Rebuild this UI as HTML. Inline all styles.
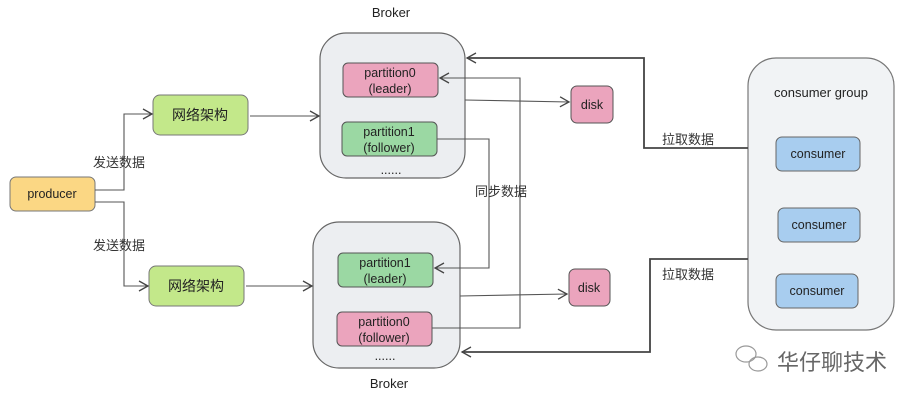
<!DOCTYPE html>
<html><head><meta charset="utf-8"><style>
html,body{margin:0;padding:0;background:#fff;}
svg text{font-family:"Liberation Sans","Noto Sans CJK SC",sans-serif;}
</style></head><body>
<svg width="915" height="402" viewBox="0 0 915 402" xmlns="http://www.w3.org/2000/svg">
<defs>
<marker id="a" markerWidth="12" markerHeight="12" refX="10" refY="6" orient="auto" markerUnits="userSpaceOnUse">
<path d="M1,1 L10,6 L1,11" fill="none" stroke="#444" stroke-width="1.3"/>
</marker>
</defs>
<rect width="915" height="402" fill="#fff"/>
<rect x="320" y="33" width="145" height="145" rx="26" fill="#eceef1" stroke="#666" stroke-width="1.2"/>
<rect x="313" y="222" width="147" height="146" rx="26" fill="#eceef1" stroke="#666" stroke-width="1.2"/>
<rect x="748" y="58" width="146" height="272" rx="28" fill="#f1f3f5" stroke="#777" stroke-width="1.2"/>
<text x="391" y="17" font-size="13" text-anchor="middle" fill="#222">Broker</text>
<text x="389" y="388" font-size="13" text-anchor="middle" fill="#222">Broker</text>
<text x="821" y="97" font-size="13" text-anchor="middle" fill="#222">consumer group</text>
<g font-size="12.5" text-anchor="middle" fill="#222">
<rect x="343" y="63" width="95" height="34" rx="5" fill="#eba4bd" stroke="#555"/>
<text x="390" y="77">partition0</text><text x="390" y="93">(leader)</text>
<rect x="342" y="122" width="95" height="34" rx="5" fill="#9bd8a3" stroke="#555"/>
<text x="389" y="136">partition1</text><text x="389" y="152">(follower)</text>
<text x="391" y="174">......</text>
<rect x="338" y="253" width="95" height="34" rx="5" fill="#9bd8a3" stroke="#555"/>
<text x="385" y="267">partition1</text><text x="385" y="283">(leader)</text>
<rect x="337" y="312" width="95" height="34" rx="5" fill="#eba4bd" stroke="#555"/>
<text x="384" y="326">partition0</text><text x="384" y="342">(follower)</text>
<text x="385" y="360">......</text>
<rect x="571" y="86" width="42" height="37" rx="6" fill="#eba4bd" stroke="#555"/>
<text x="592" y="109">disk</text>
<rect x="569" y="269" width="41" height="37" rx="6" fill="#eba4bd" stroke="#555"/>
<text x="589" y="292">disk</text>
<rect x="10" y="177" width="85" height="34" rx="6" fill="#fbd784" stroke="#777"/>
<text x="52" y="198">producer</text>
<rect x="153" y="95" width="95" height="40" rx="7" fill="#c3e88a" stroke="#777"/>
<text x="200" y="120" font-size="14">网络架构</text>
<rect x="149" y="266" width="95" height="40" rx="7" fill="#c3e88a" stroke="#777"/>
<text x="196" y="291" font-size="14">网络架构</text>
<rect x="776" y="137" width="84" height="34" rx="6" fill="#a8cdef" stroke="#666"/>
<text x="818" y="158">consumer</text>
<rect x="778" y="208" width="82" height="34" rx="6" fill="#a8cdef" stroke="#666"/>
<text x="819" y="229">consumer</text>
<rect x="776" y="274" width="82" height="34" rx="6" fill="#a8cdef" stroke="#666"/>
<text x="817" y="295">consumer</text>
</g>
<g fill="none" stroke="#555" stroke-width="1.1" marker-end="url(#a)">
<path d="M95,190 H124 V114 H152"/>
<path d="M95,202 H124 V286 H148"/>
<path d="M250,116 H319"/>
<path d="M246,286 H312"/>
<path d="M465,100 L569,102"/>
<path d="M460,296 L567,294"/>
<path d="M432,328 H520 V78 H440"/>
<path d="M437,139 H489 V268 H435"/>
<path d="M748,148 H644 V58 H467" stroke-width="1.8" stroke="#444"/>
<path d="M748,259 H650 V352 H462" stroke-width="1.8" stroke="#444"/>
</g>
<g font-size="13" fill="#333">
<text x="93" y="167">发送数据</text>
<text x="93" y="250">发送数据</text>
<text x="475" y="196">同步数据</text>
<text x="662" y="144">拉取数据</text>
<text x="662" y="279">拉取数据</text>
</g>
<g fill="none" stroke="#999" stroke-width="1.2">
<ellipse cx="746" cy="354" rx="10" ry="8"/>
<ellipse cx="758" cy="364" rx="9" ry="7"/>
</g>
<text x="777" y="370" font-size="22" fill="#666">华仔聊技术</text>
</svg>
</body></html>
